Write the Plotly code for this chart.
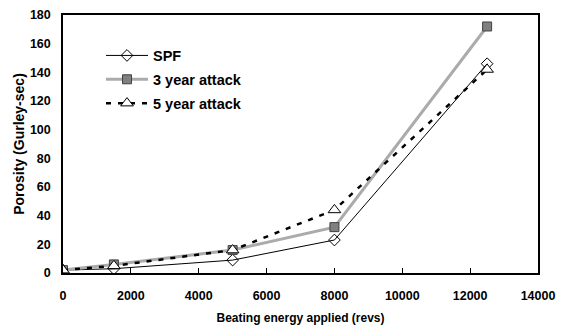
import plotly.graph_objects as go

energy = [0, 1500, 5000, 8000, 12500]
spf = [2, 3, 9, 23, 146]
attack3 = [2, 6, 16, 32, 172]
attack5 = [2, 5, 16, 44, 142]

x_ticks = [0, 2000, 4000, 6000, 8000, 10000, 12000, 14000]
y_ticks = [0, 20, 40, 60, 80, 100, 120, 140, 160, 180]

FONT = "Liberation Sans"

fig = go.Figure()
fig.add_trace(go.Scatter(
    x=energy, y=spf, name="SPF", mode="lines+markers", legendgroup="a",
    line=dict(color="black", width=1),
    marker=dict(symbol="diamond-open", size=9, color="black", line=dict(width=1)),
))
fig.add_trace(go.Scatter(
    x=energy, y=attack3, name="3 year attack", mode="lines+markers", legendgroup="b",
    line=dict(color="#ababab", width=3),
    marker=dict(symbol="square", size=9, color="#808080", line=dict(color="#404040", width=1)),
))
fig.add_trace(go.Scatter(
    x=energy, y=attack5, name="5 year attack", mode="lines+markers", legendgroup="c",
    line=dict(color="black", width=2.5, dash="5px,7px"),
    marker=dict(symbol="triangle-up", size=11, color="white", line=dict(color="black", width=1)),
))

fig.update_layout(
    width=564, height=331,
    margin=dict(l=63, r=26, t=15, b=58),
    paper_bgcolor="white", plot_bgcolor="white",
    font=dict(family=FONT, size=11, color="black"),
    showlegend=True,
    legend=dict(
        x=0.08, y=0.905, xanchor="left", yanchor="top",
        font=dict(family=FONT, size=14.5, color="black", weight="bold"),
        bgcolor="rgba(0,0,0,0)", tracegroupgap=2, itemwidth=42,
    ),
    xaxis=dict(
        range=[0, 14000], tickvals=x_ticks, ticktext=[str(v) for v in x_ticks],
        showgrid=False, zeroline=False, automargin=False,
        showline=True, linecolor="black", linewidth=1.5, mirror=True,
        ticks="inside", ticklen=5, tickcolor="black",
        tickfont=dict(family=FONT, size=12.5, weight="bold"),
        ticklabelstandoff=10,
        title=dict(text="Beating energy applied (revs)",
                   font=dict(family=FONT, size=12, weight="bold"), standoff=12),
    ),
    yaxis=dict(
        range=[0, 180], tickvals=y_ticks, ticktext=[str(v) for v in y_ticks],
        showgrid=False, zeroline=False, automargin=False,
        showline=True, linecolor="black", linewidth=1.5, mirror=True,
        ticks="", tickfont=dict(family=FONT, size=12.5, weight="bold"),
        ticklabelstandoff=8,
        title=dict(text="Porosity (Gurley-sec)",
                   font=dict(family=FONT, size=14, weight="bold"), standoff=2),
    ),
)

fig.write_html("out.html")
